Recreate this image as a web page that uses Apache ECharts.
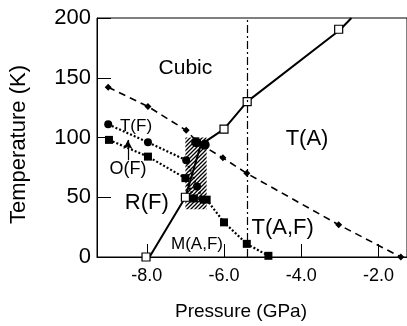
<!DOCTYPE html>
<html>
<head>
<meta charset="utf-8">
<script src="https://cdn.jsdelivr.net/npm/echarts@6/dist/echarts.min.js"></script>
<style>
  html, body { margin: 0; padding: 0; background: #fff; }
  #phase { width: 407px; height: 326px; }
</style>
</head>
<body>
<div id="phase"></div>
<script>
// cubic boundary (solid line) and its open-square points
var cubicLine = [[-7.93, 0], [-7.0, 50], [-6.6, 94], [-6.0, 107], [-5.4, 130], [-3.0, 190], [-2.7, 200]];
var cubicSquares = [[-8.02, 0], [-7.0, 50], [-6.0, 107], [-5.4, 130], [-3.03, 190.6]];
// dashed line with small diamonds
var dashedDiamonds = [[-9.0, 142], [-7.97, 126], [-6.98, 106], [-6.65, 95], [-6.03, 83], [-5.41, 70], [-3.03, 27], [-1.42, 0]];
// T(F) dotted line, filled circles
var tfCircles = [[-9.0, 111], [-7.97, 96], [-6.98, 81], [-6.7, 59], [-6.55, 48]];
// O(F) dotted line, filled squares, down to M(A,F)
var ofSquares = [[-8.98, 98], [-7.97, 84], [-7.0, 66], [-6.78, 49], [-6.45, 48], [-6.0, 29], [-5.41, 11], [-4.85, 1]];
// overlapping points at the top of the hatched zone
var blobCircles = [[-6.72, 96], [-6.5, 94]];
// hatched coexistence zone
var hatchP = [-7.0, -6.45, -6.45, -7.0];
var hatchT = [100, 100, 40, 40];
// dash-dot vertical line
var vLineP = -5.41;
// O(F) arrow
var arrowP = -8.49;
var arrowT = [81, 98];
// phase labels
var phaseLabels = [
  ['Cubic', -7.0, 158, 21],
  ['T(A)', -3.85, 99, 22],
  ['R(F)', -8.0, 45, 22],
  ['T(A,F)', -4.48, 24, 22],
  ['M(A,F)', -6.7, 11, 17],
  ['T(F)', -8.28, 109, 17],
  ['O(F)', -8.49, 74, 18]
];
var xTicks = [-8, -6, -4, -2];

var font = 'Liberation Sans, Arial, sans-serif';

// little canvas for the //// hatching
var hatchTile = document.createElement('canvas');
hatchTile.width = 4;
hatchTile.height = 4;
var hc = hatchTile.getContext('2d');
hc.strokeStyle = '#000';
hc.lineWidth = 1.3;
hc.beginPath();
hc.moveTo(-1, 5); hc.lineTo(5, -1);
hc.moveTo(-1, 1); hc.lineTo(1, -1);
hc.moveTo(3, 5); hc.lineTo(5, 3);
hc.stroke();

var chart = echarts.init(document.getElementById('phase'));

var option = {
  animation: false,
  grid: {
    left: 91, top: 18, right: -3, bottom: 60,
    show: true, borderColor: '#000', borderWidth: 1
  },
  xAxis: {
    type: 'value', min: -9.29, max: -1.26,
    name: 'Pressure (GPa)', nameLocation: 'middle', nameGap: 45,
    nameTextStyle: { fontFamily: font, fontSize: 19, color: '#000', padding: [0, 22, 0, 0] },
    axisLine: { show: true, onZero: false, lineStyle: { color: '#000', width: 1 } },
    axisTick: { show: true, inside: true, length: 13, customValues: xTicks, lineStyle: { color: '#000' } },
    axisLabel: {
      customValues: xTicks, margin: 10,
      fontFamily: font, fontSize: 18, color: '#000',
      formatter: function (v) { return v.toFixed(1); }
    },
    splitLine: { show: false }
  },
  yAxis: {
    type: 'value', min: 0, max: 200, interval: 50,
    name: 'Temperature (K)', nameLocation: 'middle', nameGap: 67,
    nameTextStyle: { fontFamily: font, fontSize: 22, color: '#000', padding: [0, 14, 0, 0] },
    axisLine: { show: true, lineStyle: { color: '#000', width: 1 } },
    axisTick: { show: true, inside: true, length: 14, lineStyle: { color: '#000' } },
    axisLabel: { margin: 6, fontFamily: font, fontSize: 22, color: '#000' },
    splitLine: { show: false }
  },
  series: [
    {
      name: 'hatch', type: 'custom', z: 1,
      data: [[hatchP[0], hatchT[0]]],
      renderItem: function (params, api) {
        var pts = hatchP.map(function (p, i) { return api.coord([p, hatchT[i]]); });
        return {
          type: 'polygon',
          shape: { points: pts },
          style: { fill: { image: hatchTile, repeat: 'repeat' }, stroke: null }
        };
      }
    },
    {
      name: 'cubic', type: 'line', data: cubicLine, showSymbol: false, z: 3,
      lineStyle: { color: '#000', width: 2 },
      markLine: {
        silent: true, symbol: 'none', label: { show: false },
        lineStyle: { color: '#000', width: 1.2, type: [8, 3, 2, 3] },
        data: [{ xAxis: vLineP }]
      }
    },
    {
      name: 'cubicSquares', type: 'scatter', data: cubicSquares, z: 4,
      symbol: 'rect', symbolSize: 8,
      itemStyle: { color: '#fff', borderColor: '#000', borderWidth: 1.2, opacity: 1 }
    },
    {
      name: 'dashed', type: 'line', data: dashedDiamonds, z: 3,
      symbol: 'diamond', symbolSize: 7, showAllSymbol: true,
      lineStyle: { color: '#000', width: 1.6, type: [7, 5] },
      itemStyle: { color: '#000' }
    },
    {
      name: 'T(F)', type: 'line', data: tfCircles, z: 3,
      symbol: 'circle', symbolSize: 8, showAllSymbol: true,
      lineStyle: { color: '#000', width: 2.2, type: [2, 2] },
      itemStyle: { color: '#000' },
      markLine: {
        silent: true, symbol: ['none', 'arrow'], symbolSize: [7, 9], label: { show: false },
        lineStyle: { color: '#000', width: 1.2, type: 'solid' },
        data: [[{ coord: [arrowP, arrowT[0]] }, { coord: [arrowP, arrowT[1]] }]]
      }
    },
    {
      name: 'O(F)', type: 'line', data: ofSquares, z: 3,
      symbol: 'rect', symbolSize: 8, showAllSymbol: true,
      lineStyle: { color: '#000', width: 2.2, type: [2, 2] },
      itemStyle: { color: '#000' }
    },
    {
      name: 'blobs', type: 'scatter', data: blobCircles, z: 4,
      symbol: 'circle', symbolSize: 10,
      itemStyle: { color: '#000', opacity: 1 }
    },
    {
      name: 'labels', type: 'scatter', symbolSize: 0, z: 5, silent: true,
      itemStyle: { opacity: 1 },
      data: phaseLabels.map(function (d) {
        return {
          value: [d[1], d[2]],
          label: { show: true, position: 'inside', formatter: d[0], fontSize: d[3],
            fontFamily: font, color: '#000' }
        };
      })
    }
  ]
};
chart.setOption(option);
</script>
</body>
</html>
